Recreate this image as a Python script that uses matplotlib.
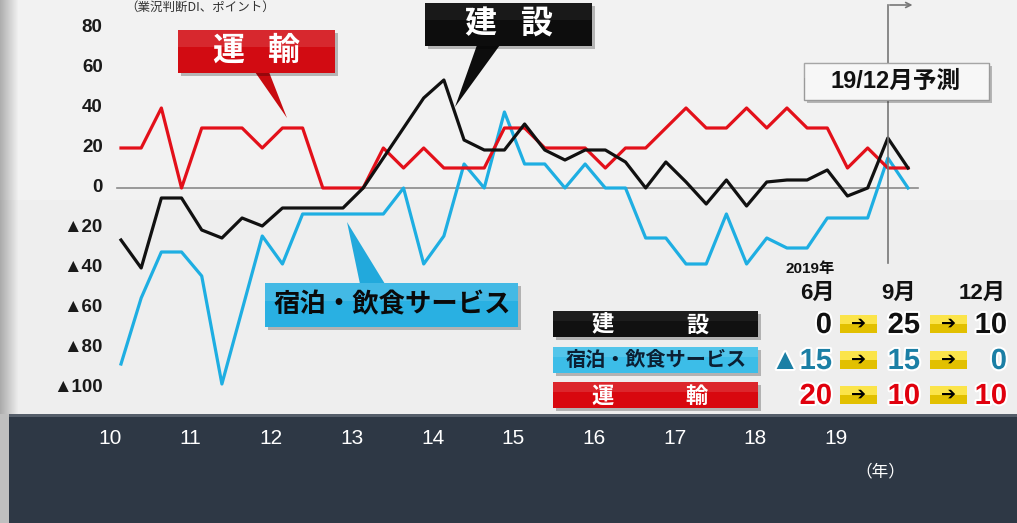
import numpy as np
import matplotlib
matplotlib.use("Agg")
import matplotlib.pyplot as plt
from matplotlib.patches import Rectangle, Polygon
import matplotlib.patheffects as pe

plt.rcParams['font.family'] = ['Liberation Sans', 'Noto Sans CJK JP', 'DejaVu Sans']
JP = ['Noto Sans CJK JP', 'DejaVu Sans']

# 四半期データ（2010年3月〜2019年12月予測）
start_year = 2010
construction = [-26, -40, -5, -5, -21, -25, -15, -19, -10, -10,
                -10, -10, 0, 15, 30, 45, 54, 24, 19, 19,
                32, 19, 14, 19, 19, 13, 0, 13, 3, -8,
                4, -9, 3, 4, 4, 9, -4, 0, 25, 10]
lodging = [-88, -55, -32, -32, -44, -98, -61, -24, -38, -13,
           -13, -13, -13, -13, 0, -38, -24, 12, 0, 38,
           12, 12, 0, 12, 0, 0, -25, -25, -38, -38,
           -13, -38, -25, -30, -30, -15, -15, -15, 15, 0]
transport = [20, 20, 40, 0, 30, 30, 30, 20, 30, 30,
             0, 0, 0, 20, 10, 20, 10, 10, 10, 30,
             30, 20, 20, 20, 10, 20, 20, 30, 40, 30,
             30, 40, 30, 40, 30, 30, 10, 20, 10, 10]
year_labels = [10, 11, 12, 13, 14, 15, 16, 17, 18, 19]
y_ticks = [80, 60, 40, 20, 0, -20, -40, -60, -80, -100]

months = ['6月', '9月', '12月']
fc_construction = [0, 25, 10]
fc_lodging = [-15, 15, 0]
fc_transport = [20, 10, 10]

x = start_year + np.arange(len(construction)) / 4

W, H = 1017, 523
fig = plt.figure(figsize=(W / 100, H / 100), dpi=100)

# 背景
img = np.ones((H, W, 3)) * 0.935
img[:200] = 0.95
ramp = np.clip(np.arange(W) / 18.0, 0, 1)
img[:, :, :] *= (0.72 + 0.28 * ramp)[None, :, None]
img[414:, :] = np.array([0x2e, 0x38, 0x45]) / 255
img[414:417, :] = np.array([0x55, 0x5e, 0x6a]) / 255
img[414:, :9] = 0.75
bg = fig.add_axes([0, 0, 1, 1])
bg.imshow(img, extent=(0, W, H, 0), aspect='auto', interpolation='bilinear')
bg.axis('off')

# メインのグラフ
ax = fig.add_axes([0, 0, 1, 1])
ax.patch.set_alpha(0)
ax.axis('off')
ax.set_xlim(start_year - 121 / 80.72, start_year + 896 / 80.72)
ax.set_ylim(-167.5, 94)

ax.axhline(0, 117 / W, 918 / W, color='#8a8a8a', lw=1.2)
ax.plot(x, lodging, color='#1eaee2', lw=2.3)
ax.plot(x, transport, color='#e3101a', lw=2.3)
ax.plot(x, construction, color='#111111', lw=2.3)

# 予測の縦線
ax.plot([x[-2], x[-2]], [-37.5, 91.5], color='#777777', lw=1.2)
ax.annotate('', xy=(x[-2] + 0.34, 91.5), xytext=(x[-2] - 0.01, 91.5),
            arrowprops=dict(arrowstyle='->', color='#777777', lw=1.2, mutation_scale=9))

for v in y_ticks:
    lab = f'▲{-v}' if v < 0 else f'{v}'
    ax.text(0.101, v, lab, transform=ax.get_yaxis_transform(), ha='right', va='center',
            fontsize=13.5, fontweight='bold', color='#1a1a1a')

for yl in year_labels:
    ax.text(2000 + yl - 0.14, -125, f'{yl}', ha='center', va='center',
            fontsize=15, color='white')

# 注釈・凡例（ピクセル座標）
ov = fig.add_axes([0, 0, 1, 1])
ov.patch.set_alpha(0)
ov.axis('off')
ov.set_xlim(0, W)
ov.set_ylim(H, 0)


def box(x0, y0, x1, y1, color, shadow=True, edge=None, shine=0.12):
    if shadow:
        ov.add_patch(Rectangle((x0 + 3, y0 + 3), x1 - x0, y1 - y0, color='black', alpha=0.25, lw=0))
    ov.add_patch(Rectangle((x0, y0), x1 - x0, y1 - y0, facecolor=color,
                           edgecolor=edge if edge else 'none', lw=1))
    ov.add_patch(Rectangle((x0, y0), x1 - x0, (y1 - y0) * 0.4, color='white', alpha=shine, lw=0))


ov.text(200, 1, '（業況判断DI、ポイント）', ha='center', va='top', fontsize=9,
        family=JP, color='#333333')

# 運輸
ov.add_patch(Polygon([(255, 72), (269, 72), (287, 118)], color='#c80a0f', lw=0))
box(178, 30, 335, 73, '#d20b12')
ov.text(228, 51, '運', ha='center', va='center', fontsize=23, family=JP, fontweight='bold', color='white')
ov.text(283, 51, '輸', ha='center', va='center', fontsize=23, family=JP, fontweight='bold', color='white')

# 建設
ov.add_patch(Polygon([(477, 45), (500, 45), (455, 107)], color='#0d0d0d', lw=0))
box(425, 3, 592, 46, '#0d0d0d', shine=0.05)
ov.text(480, 24, '建', ha='center', va='center', fontsize=23, family=JP, fontweight='bold', color='white')
ov.text(536, 24, '設', ha='center', va='center', fontsize=23, family=JP, fontweight='bold', color='white')

# 宿泊・飲食サービス
ov.add_patch(Polygon([(360, 284), (385, 284), (347, 222)], color='#22a9dc', lw=0))
box(265, 283, 518, 327, '#29b0e2')
ov.text(392, 305, '宿泊・飲食サービス', ha='center', va='center', fontsize=19, family=JP,
        fontweight='bold', color='#0a0a0a')

# 予測ラベル
box(804, 63, 989, 100, '#f7f7f7', edge='#9a9a9a')
ov.text(896, 81, '19/12月予測', ha='center', va='center', fontsize=17, fontweight='bold', color='#111111')

# 凡例の表
ov.text(810, 269, '2019年', ha='center', va='center', fontsize=11, fontweight='bold', color='#111111')
month_x = [817, 899, 982]
for mx, m in zip(month_x, months):
    ov.text(mx, 293, m, ha='center', va='center', fontsize=16, fontweight='bold', color='#111111')

rows = [
    (fc_construction, '#111111', '#111111', 324, 0.05),
    (fc_lodging, '#3cbde8', '#1b7fa5', 360, 0.12),
    (fc_transport, '#d8080f', '#e0000d', 395, 0.12),
]
for vals, bcol, tcol, yc, sh in rows:
    box(553, yc - 13, 758, yc + 13, bcol, shine=sh)
    for xr, v in zip([832, 920, 1007], vals):
        s = f'▲{-v}' if v < 0 else f'{v}'
        ov.text(xr, yc + 1, s, ha='right', va='center', fontsize=21, fontweight='bold', color=tcol,
                path_effects=[pe.withStroke(linewidth=3, foreground='white')])
    for ax0 in [840, 930]:
        ov.add_patch(Rectangle((ax0, yc - 9), 37, 18, color='#e2c000', lw=0))
        ov.add_patch(Rectangle((ax0, yc - 9), 37, 9, color='#fbe44a', lw=0))
        ov.text(ax0 + 18.5, yc, '➔', ha='center', va='center', fontsize=13, color='black',
                family=['DejaVu Sans'])

ov.text(603, 325, '建', ha='center', va='center', fontsize=16, family=JP, fontweight='bold', color='white')
ov.text(697, 325, '設', ha='center', va='center', fontsize=16, family=JP, fontweight='bold', color='white')
ov.text(656, 360, '宿泊・飲食サービス', ha='center', va='center', fontsize=14.5, family=JP,
        fontweight='bold', color='#0b1f33')
ov.text(603, 396, '運', ha='center', va='center', fontsize=16, family=JP, fontweight='bold', color='white')
ov.text(697, 396, '輸', ha='center', va='center', fontsize=16, family=JP, fontweight='bold', color='white')

ov.text(880, 472, '（年）', ha='center', va='center', fontsize=12, family=JP, color='white')

fig.savefig('out.png', dpi=100)
